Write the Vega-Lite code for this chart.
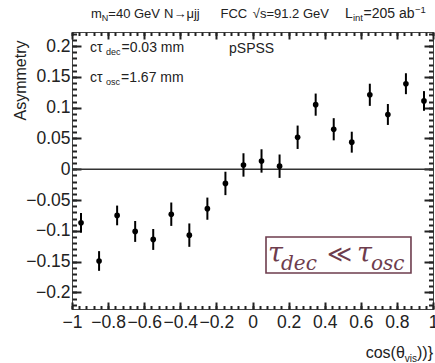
{
  "$schema": "https://vega.github.io/schema/vega-lite/v6.json",
  "width": 361,
  "height": 277,
  "autosize": {"type": "none"},
  "padding": {"left": 72, "top": 32, "right": 2, "bottom": 54},
  "background": "white",
  "config": {
    "view": {"stroke": "#444", "strokeWidth": 1},
    "font": "Liberation Sans",
    "axis": {"labelFont": "Liberation Sans", "labelColor": "#222", "titleFont": "Liberation Sans", "titleColor": "#222", "titleFontWeight": "normal", "labelFlush": false, "labelOverlap": false, "labelBound": false}
  },
  "data": {"values": [
    {"x": -0.95, "a": -0.087, "lo": -0.103, "hi": -0.071},
    {"x": -0.85, "a": -0.149, "lo": -0.165, "hi": -0.133},
    {"x": -0.75, "a": -0.075, "lo": -0.091, "hi": -0.059},
    {"x": -0.65, "a": -0.101, "lo": -0.118, "hi": -0.084},
    {"x": -0.55, "a": -0.114, "lo": -0.131, "hi": -0.097},
    {"x": -0.45, "a": -0.073, "lo": -0.092, "hi": -0.054},
    {"x": -0.35, "a": -0.107, "lo": -0.126, "hi": -0.088},
    {"x": -0.25, "a": -0.064, "lo": -0.082, "hi": -0.046},
    {"x": -0.15, "a": -0.023, "lo": -0.042, "hi": -0.004},
    {"x": -0.05, "a": 0.007, "lo": -0.012, "hi": 0.026},
    {"x": 0.05, "a": 0.0135, "lo": -0.0055, "hi": 0.0325},
    {"x": 0.15, "a": 0.005, "lo": -0.014, "hi": 0.024},
    {"x": 0.25, "a": 0.052, "lo": 0.033, "hi": 0.071},
    {"x": 0.35, "a": 0.105, "lo": 0.087, "hi": 0.123},
    {"x": 0.45, "a": 0.065, "lo": 0.047, "hi": 0.083},
    {"x": 0.55, "a": 0.044, "lo": 0.027, "hi": 0.061},
    {"x": 0.65, "a": 0.121, "lo": 0.103, "hi": 0.139},
    {"x": 0.75, "a": 0.089, "lo": 0.072, "hi": 0.106},
    {"x": 0.85, "a": 0.139, "lo": 0.122, "hi": 0.156},
    {"x": 0.95, "a": 0.111, "lo": 0.095, "hi": 0.127}
  ]},
  "resolve": {"axis": {"x": "independent", "y": "independent"}},
  "layer": [
    {
      "data": {"values": [{}]},
      "mark": {"type": "rule", "color": "#333", "strokeWidth": 1.5},
      "encoding": {"y": {"datum": 0, "type": "quantitative", "scale": {"domain": [-0.227, 0.223], "nice": false, "zero": false}, "axis": null}}
    },
    {
      "mark": {"type": "rule", "color": "#000", "strokeWidth": 2},
      "encoding": {
        "x": {"field": "x", "type": "quantitative", "scale": {"domain": [-1, 1], "nice": false, "zero": false},
              "axis": {"orient": "bottom", "values": [-1, -0.8, -0.6, -0.4, -0.2, 0, 0.2, 0.4, 0.6, 0.8, 1], "format": ".2~f", "ticks": false, "domain": false, "grid": false, "labelFontSize": 17.5, "labelPadding": 4, "title": null}},
        "y": {"field": "lo", "type": "quantitative", "scale": {"domain": [-0.227, 0.223], "nice": false, "zero": false},
              "axis": {"orient": "left", "values": [-0.2, -0.15, -0.1, -0.05, 0, 0.05, 0.1, 0.15, 0.2], "format": ".2~f", "ticks": false, "domain": false, "grid": false, "labelFontSize": 17.5, "labelPadding": 2, "title": "Asymmetry", "titleFontSize": 16, "titleAnchor": "end", "titleAlign": "right", "titleAngle": -90, "titleBaseline": "alphabetic", "titleX": -47, "titleY": 8}},
        "y2": {"field": "hi"}
      }
    },
    {
      "mark": {"type": "point", "filled": true, "shape": "circle", "size": 32, "color": "#000", "opacity": 1},
      "encoding": {
        "x": {"field": "x", "type": "quantitative", "scale": {"domain": [-1, 1], "nice": false, "zero": false},
              "axis": {"orient": "bottom", "values": [-1, -0.8, -0.6, -0.4, -0.2, 0, 0.2, 0.4, 0.6, 0.8, 1], "labels": false, "ticks": true, "tickSize": 7, "offset": -7, "tickColor": "#222", "tickWidth": 2, "domain": false, "grid": false, "title": null}},
        "y": {"field": "a", "type": "quantitative", "scale": {"domain": [-0.227, 0.223], "nice": false, "zero": false},
              "axis": {"orient": "left", "values": [-0.2, -0.15, -0.1, -0.05, 0, 0.05, 0.1, 0.15, 0.2], "labels": false, "ticks": true, "tickSize": 9, "offset": -9, "tickColor": "#222", "tickWidth": 2, "domain": false, "grid": false, "title": null}}
      }
    },
    {
      "data": {"values": [{}]},
      "mark": {"type": "rect", "fill": "white", "fillOpacity": 0, "stroke": "#6e3d4e", "strokeWidth": 1.6},
      "encoding": {
        "x": {"datum": 0.0748, "type": "quantitative", "scale": {"domain": [-1, 1], "nice": false, "zero": false},
              "axis": {"orient": "bottom", "values": [-1, -0.96, -0.92, -0.88, -0.84, -0.8, -0.76, -0.72, -0.68, -0.64, -0.6, -0.56, -0.52, -0.48, -0.44, -0.4, -0.36, -0.32, -0.28, -0.24, -0.2, -0.16, -0.12, -0.08, -0.04, 0, 0.04, 0.08, 0.12, 0.16, 0.2, 0.24, 0.28, 0.32, 0.36, 0.4, 0.44, 0.48, 0.52, 0.56, 0.6, 0.64, 0.68, 0.72, 0.76, 0.8, 0.84, 0.88, 0.92, 0.96, 1], "labels": false, "ticks": true, "tickSize": 3.5, "offset": -3.5, "tickColor": "#222", "tickWidth": 2, "domain": false, "grid": false, "title": null}},
        "x2": {"datum": 0.878},
        "y": {"datum": -0.110, "type": "quantitative", "scale": {"domain": [-0.227, 0.223], "nice": false, "zero": false},
              "axis": {"orient": "left", "values": [-0.22, -0.21, -0.2, -0.19, -0.18, -0.17, -0.16, -0.15, -0.14, -0.13, -0.12, -0.11, -0.1, -0.09, -0.08, -0.07, -0.06, -0.05, -0.04, -0.03, -0.02, -0.01, 0, 0.01, 0.02, 0.03, 0.04, 0.05, 0.06, 0.07, 0.08, 0.09, 0.1, 0.11, 0.12, 0.13, 0.14, 0.15, 0.16, 0.17, 0.18, 0.19, 0.2, 0.21, 0.22], "labels": false, "ticks": true, "tickSize": 4.5, "offset": -4.5, "tickColor": "#222", "tickWidth": 2, "domain": false, "grid": false, "title": null}},
        "y2": {"datum": -0.1685}
      }
    },
    {
      "data": {"values": [{}]},
      "mark": {"type": "text", "text": "pSPSS", "align": "left", "baseline": "alphabetic", "fontSize": 14, "color": "#222", "font": "Liberation Sans"},
      "encoding": {
        "x": {"datum": -0.13, "type": "quantitative", "scale": {"domain": [-1, 1], "nice": false, "zero": false},
              "axis": {"orient": "top", "values": [-1, -0.8, -0.6, -0.4, -0.2, 0, 0.2, 0.4, 0.6, 0.8, 1], "labels": false, "ticks": true, "tickSize": 7, "offset": -7, "tickColor": "#222", "tickWidth": 2, "domain": false, "grid": false, "title": null}},
        "y": {"datum": 0.1889, "type": "quantitative", "scale": {"domain": [-0.227, 0.223], "nice": false, "zero": false},
              "axis": {"orient": "right", "values": [-0.2, -0.15, -0.1, -0.05, 0, 0.05, 0.1, 0.15, 0.2], "labels": false, "ticks": true, "tickSize": 9, "offset": -9, "tickColor": "#222", "tickWidth": 2, "domain": false, "grid": false, "title": null}}
      }
    },
    {
      "data": {"values": [{}]},
      "mark": {"type": "text", "text": "cτ", "align": "left", "baseline": "alphabetic", "fontSize": 14, "color": "#222", "font": "Liberation Sans"},
      "encoding": {
        "x": {"datum": -0.9003, "type": "quantitative", "scale": {"domain": [-1, 1], "nice": false, "zero": false},
              "axis": {"orient": "top", "values": [-1, -0.96, -0.92, -0.88, -0.84, -0.8, -0.76, -0.72, -0.68, -0.64, -0.6, -0.56, -0.52, -0.48, -0.44, -0.4, -0.36, -0.32, -0.28, -0.24, -0.2, -0.16, -0.12, -0.08, -0.04, 0, 0.04, 0.08, 0.12, 0.16, 0.2, 0.24, 0.28, 0.32, 0.36, 0.4, 0.44, 0.48, 0.52, 0.56, 0.6, 0.64, 0.68, 0.72, 0.76, 0.8, 0.84, 0.88, 0.92, 0.96, 1], "labels": false, "ticks": true, "tickSize": 3.5, "offset": -3.5, "tickColor": "#222", "tickWidth": 2, "domain": false, "grid": false, "title": null}},
        "y": {"datum": 0.1905, "type": "quantitative", "scale": {"domain": [-0.227, 0.223], "nice": false, "zero": false},
              "axis": {"orient": "right", "values": [-0.22, -0.21, -0.2, -0.19, -0.18, -0.17, -0.16, -0.15, -0.14, -0.13, -0.12, -0.11, -0.1, -0.09, -0.08, -0.07, -0.06, -0.05, -0.04, -0.03, -0.02, -0.01, 0, 0.01, 0.02, 0.03, 0.04, 0.05, 0.06, 0.07, 0.08, 0.09, 0.1, 0.11, 0.12, 0.13, 0.14, 0.15, 0.16, 0.17, 0.18, 0.19, 0.2, 0.21, 0.22], "labels": false, "ticks": true, "tickSize": 4.5, "offset": -4.5, "tickColor": "#222", "tickWidth": 2, "domain": false, "grid": false, "title": null}}
      }
    },
    {"data": {"values": [{}]}, "mark": {"type": "text", "text": "dec", "align": "left", "baseline": "alphabetic", "fontSize": 9, "dx": 16, "dy": 3, "color": "#222", "font": "Liberation Sans"},
     "encoding": {"x": {"datum": -0.9003, "type": "quantitative", "axis": null}, "y": {"datum": 0.1905, "type": "quantitative", "axis": null}}},
    {"data": {"values": [{}]}, "mark": {"type": "text", "text": "=0.03 mm", "align": "left", "baseline": "alphabetic", "fontSize": 14, "dx": 31.5, "color": "#222", "font": "Liberation Sans"},
     "encoding": {"x": {"datum": -0.9003, "type": "quantitative", "axis": null}, "y": {"datum": 0.1905, "type": "quantitative", "axis": null}}},
    {"data": {"values": [{}]}, "mark": {"type": "text", "text": "cτ", "align": "left", "baseline": "alphabetic", "fontSize": 14, "color": "#222", "font": "Liberation Sans"},
     "encoding": {"x": {"datum": -0.9003, "type": "quantitative", "axis": null}, "y": {"datum": 0.1413, "type": "quantitative", "axis": null}}},
    {"data": {"values": [{}]}, "mark": {"type": "text", "text": "osc", "align": "left", "baseline": "alphabetic", "fontSize": 9, "dx": 16, "dy": 3, "color": "#222", "font": "Liberation Sans"},
     "encoding": {"x": {"datum": -0.9003, "type": "quantitative", "axis": null}, "y": {"datum": 0.1413, "type": "quantitative", "axis": null}}},
    {"data": {"values": [{}]}, "mark": {"type": "text", "text": "=1.67 mm", "align": "left", "baseline": "alphabetic", "fontSize": 14, "dx": 31, "color": "#222", "font": "Liberation Sans"},
     "encoding": {"x": {"datum": -0.9003, "type": "quantitative", "axis": null}, "y": {"datum": 0.1413, "type": "quantitative", "axis": null}}},

    {"data": {"values": [{}]}, "mark": {"type": "text", "text": "m", "align": "left", "baseline": "alphabetic", "fontSize": 13, "color": "#222", "font": "Liberation Sans"},
     "encoding": {"x": {"datum": -0.8947, "type": "quantitative", "axis": null}, "y": {"datum": 0.2457, "type": "quantitative", "axis": null}}},
    {"data": {"values": [{}]}, "mark": {"type": "text", "text": "N", "align": "left", "baseline": "alphabetic", "fontSize": 9, "dx": 10.8, "dy": 3, "color": "#222", "font": "Liberation Sans"},
     "encoding": {"x": {"datum": -0.8947, "type": "quantitative", "axis": null}, "y": {"datum": 0.2457, "type": "quantitative", "axis": null}}},
    {"data": {"values": [{}]}, "mark": {"type": "text", "text": "=40 GeV", "align": "left", "baseline": "alphabetic", "fontSize": 13, "dx": 17.3, "color": "#222", "font": "Liberation Sans"},
     "encoding": {"x": {"datum": -0.8947, "type": "quantitative", "axis": null}, "y": {"datum": 0.2457, "type": "quantitative", "axis": null}}},
    {"data": {"values": [{}]}, "mark": {"type": "text", "text": "N→μjj", "align": "left", "baseline": "alphabetic", "fontSize": 13, "color": "#222", "font": "Liberation Sans"},
     "encoding": {"x": {"datum": -0.4903, "type": "quantitative", "axis": null}, "y": {"datum": 0.2457, "type": "quantitative", "axis": null}}},
    {"data": {"values": [{}]}, "mark": {"type": "text", "text": "FCC", "align": "left", "baseline": "alphabetic", "fontSize": 13, "color": "#222", "font": "Liberation Sans"},
     "encoding": {"x": {"datum": -0.1773, "type": "quantitative", "axis": null}, "y": {"datum": 0.2457, "type": "quantitative", "axis": null}}},
    {"data": {"values": [{}]}, "mark": {"type": "text", "text": "√s=91.2 GeV", "align": "left", "baseline": "alphabetic", "fontSize": 13, "color": "#222", "font": "Liberation Sans"},
     "encoding": {"x": {"datum": 0.0017, "type": "quantitative", "axis": null}, "y": {"datum": 0.2457, "type": "quantitative", "axis": null}}},
    {"data": {"values": [{}]}, "mark": {"type": "text", "text": "L", "align": "left", "baseline": "alphabetic", "fontSize": 14, "color": "#222", "font": "Liberation Sans"},
     "encoding": {"x": {"datum": 0.5125, "type": "quantitative", "axis": null}, "y": {"datum": 0.2457, "type": "quantitative", "axis": null}}},
    {"data": {"values": [{}]}, "mark": {"type": "text", "text": "int", "align": "left", "baseline": "alphabetic", "fontSize": 9.5, "dx": 7.9, "dy": 3, "color": "#222", "font": "Liberation Sans"},
     "encoding": {"x": {"datum": 0.5125, "type": "quantitative", "axis": null}, "y": {"datum": 0.2457, "type": "quantitative", "axis": null}}},
    {"data": {"values": [{}]}, "mark": {"type": "text", "text": "=205 ab", "align": "left", "baseline": "alphabetic", "fontSize": 14, "dx": 18.5, "color": "#222", "font": "Liberation Sans"},
     "encoding": {"x": {"datum": 0.5125, "type": "quantitative", "axis": null}, "y": {"datum": 0.2457, "type": "quantitative", "axis": null}}},
    {"data": {"values": [{}]}, "mark": {"type": "text", "text": "−1", "align": "left", "baseline": "alphabetic", "fontSize": 9.5, "dx": 70, "dy": -5.5, "color": "#222", "font": "Liberation Sans"},
     "encoding": {"x": {"datum": 0.5125, "type": "quantitative", "axis": null}, "y": {"datum": 0.2457, "type": "quantitative", "axis": null}}},

    {"data": {"values": [{}]}, "mark": {"type": "text", "text": "τ", "align": "left", "baseline": "alphabetic", "fontSize": 27, "fontStyle": "italic", "dx": 2, "color": "#6e3d4e", "font": "DejaVu Serif"},
     "encoding": {"x": {"datum": 0.0748, "type": "quantitative", "axis": null}, "y": {"datum": -0.1506, "type": "quantitative", "axis": null}}},
    {"data": {"values": [{}]}, "mark": {"type": "text", "text": "dec", "align": "left", "baseline": "alphabetic", "fontSize": 20, "fontStyle": "italic", "dx": 15, "dy": 8, "color": "#6e3d4e", "font": "DejaVu Serif"},
     "encoding": {"x": {"datum": 0.0748, "type": "quantitative", "axis": null}, "y": {"datum": -0.1506, "type": "quantitative", "axis": null}}},
    {"data": {"values": [{}]}, "mark": {"type": "text", "text": "≪", "align": "left", "baseline": "alphabetic", "fontSize": 24, "dx": 61, "color": "#6e3d4e", "font": "DejaVu Serif"},
     "encoding": {"x": {"datum": 0.0748, "type": "quantitative", "axis": null}, "y": {"datum": -0.1506, "type": "quantitative", "axis": null}}},
    {"data": {"values": [{}]}, "mark": {"type": "text", "text": "τ", "align": "left", "baseline": "alphabetic", "fontSize": 27, "fontStyle": "italic", "dx": 91, "color": "#6e3d4e", "font": "DejaVu Serif"},
     "encoding": {"x": {"datum": 0.0748, "type": "quantitative", "axis": null}, "y": {"datum": -0.1506, "type": "quantitative", "axis": null}}},
    {"data": {"values": [{}]}, "mark": {"type": "text", "text": "osc", "align": "left", "baseline": "alphabetic", "fontSize": 20, "fontStyle": "italic", "dx": 105, "dy": 8, "color": "#6e3d4e", "font": "DejaVu Serif"},
     "encoding": {"x": {"datum": 0.0748, "type": "quantitative", "axis": null}, "y": {"datum": -0.1506, "type": "quantitative", "axis": null}}},

    {"data": {"values": [{}]}, "mark": {"type": "text", "text": "))}", "align": "right", "baseline": "alphabetic", "fontSize": 16, "color": "#222", "font": "Liberation Sans"},
     "encoding": {"x": {"datum": 1, "type": "quantitative", "axis": null}, "y": {"datum": -0.3066, "type": "quantitative", "axis": null}}},
    {"data": {"values": [{}]}, "mark": {"type": "text", "text": "vis", "align": "right", "baseline": "alphabetic", "fontSize": 10, "dx": -16, "dy": 4, "color": "#222", "font": "Liberation Sans"},
     "encoding": {"x": {"datum": 1, "type": "quantitative", "axis": null}, "y": {"datum": -0.3066, "type": "quantitative", "axis": null}}},
    {"data": {"values": [{}]}, "mark": {"type": "text", "text": "cos(θ", "align": "right", "baseline": "alphabetic", "fontSize": 16, "dx": -28.2, "color": "#222", "font": "Liberation Sans"},
     "encoding": {"x": {"datum": 1, "type": "quantitative", "axis": null}, "y": {"datum": -0.3066, "type": "quantitative", "axis": null}}}
  ]
}
